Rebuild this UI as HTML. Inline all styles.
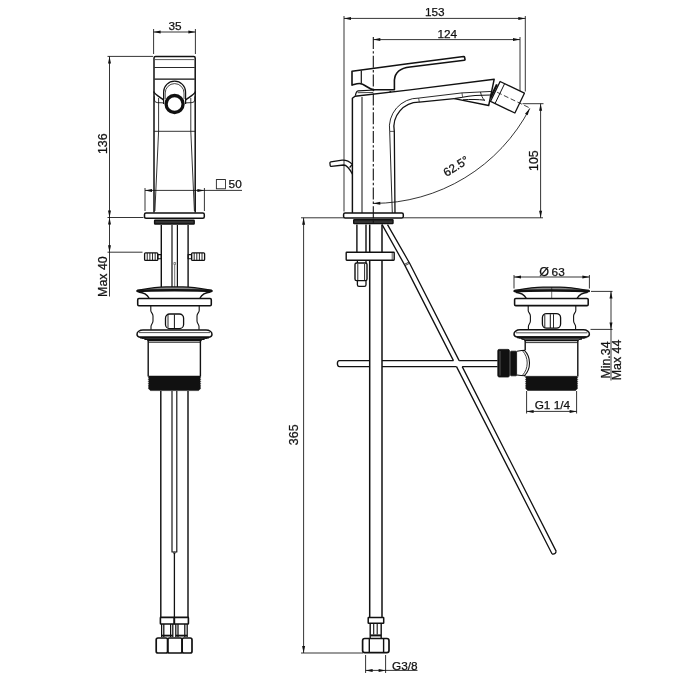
<!DOCTYPE html>
<html><head><meta charset="utf-8"><title>Technical drawing</title>
<style>
html,body{margin:0;padding:0;background:#fff;}
body{width:700px;height:700px;overflow:hidden;}
svg{display:block;will-change:transform;font-family:"Liberation Sans",Arial,Helvetica,sans-serif;}
</style></head><body>
<svg width="700" height="700" viewBox="0 0 700 700" stroke="#111" fill="none" stroke-linecap="butt" stroke-linejoin="round">
<rect x="0" y="0" width="700" height="700" fill="#fff" stroke="none"/>
<line x1="153.6" y1="29" x2="153.6" y2="54" stroke-width="0.85" />
<line x1="195.4" y1="29" x2="195.4" y2="54" stroke-width="0.85" />
<line x1="153.6" y1="32" x2="195.4" y2="32" stroke-width="0.85" />
<polygon points="153.60,32.00 160.60,30.50 160.60,33.50" fill="#111" stroke="none"/>
<polygon points="195.40,32.00 188.40,33.50 188.40,30.50" fill="#111" stroke="none"/>
<text x="175" y="29.7" font-size="11.8" text-anchor="middle" stroke="#111" stroke-width="0.25" fill="#111">35</text>
<line x1="107.5" y1="56.4" x2="153" y2="56.4" stroke-width="0.85" />
<line x1="109.5" y1="56.4" x2="109.5" y2="296.5" stroke-width="0.85" />
<polygon points="109.50,56.40 111.00,63.40 108.00,63.40" fill="#111" stroke="none"/>
<polygon points="109.50,217.50 108.00,210.50 111.00,210.50" fill="#111" stroke="none"/>
<line x1="107.5" y1="217.5" x2="143.5" y2="217.5" stroke-width="0.85" />
<text x="107.3" y="143.7" font-size="12.4" text-anchor="middle" transform="rotate(-90 107.3 143.7)" stroke="#111" stroke-width="0.25" fill="#111">136</text>
<polygon points="109.50,217.50 111.00,224.50 108.00,224.50" fill="#111" stroke="none"/>
<polygon points="109.50,252.20 108.00,245.20 111.00,245.20" fill="#111" stroke="none"/>
<line x1="107.5" y1="252.2" x2="142.5" y2="252.2" stroke-width="0.85" />
<text x="107.3" y="276.6" font-size="12.4" text-anchor="middle" transform="rotate(-90 107.3 276.6)" stroke="#111" stroke-width="0.25" fill="#111">Max 40</text>
<line x1="145" y1="188" x2="145" y2="211" stroke-width="0.85" />
<line x1="204.4" y1="188" x2="204.4" y2="211" stroke-width="0.85" />
<line x1="145" y1="190.4" x2="242" y2="190.4" stroke-width="0.85" />
<polygon points="145.00,190.40 152.00,188.90 152.00,191.90" fill="#111" stroke="none"/>
<polygon points="204.40,190.40 197.40,191.90 197.40,188.90" fill="#111" stroke="none"/>
<text x="216.0" y="189.2" font-size="16.2" text-anchor="start" stroke="#111" stroke-width="0.25" fill="#111">□</text>
<text x="228.6" y="188.2" font-size="11.8" text-anchor="start" stroke="#111" stroke-width="0.25" fill="#111">50</text>
<path d="M154,212.5 V58 Q154,56.5 155.5,56.5 H193.7 Q195.2,56.5 195.2,58 V212.5" stroke-width="1.5" fill="none" />
<line x1="155" y1="59.6" x2="194.2" y2="59.6" stroke-width="0.7" />
<line x1="154.5" y1="67.5" x2="194.7" y2="67.5" stroke-width="0.9" />
<line x1="154.5" y1="79.2" x2="194.7" y2="79.2" stroke-width="1.3" />
<path d="M153.8,91.5 C154,93.5 156,94.6 163.4,99.8" stroke-width="1.5" fill="none" />
<path d="M195.4,91.5 C195.2,93.5 193.2,94.6 185.8,99.8" stroke-width="1.5" fill="none" />
<path d="M154.4,96.4 V100 Q154.6,102.4 157.2,102.6 L164,102.9" stroke-width="0.85" fill="none" />
<path d="M194.8,96.4 V100 Q194.6,102.4 192,102.6 L185.2,102.9" stroke-width="0.85" fill="none" />
<path d="M158.6,98 V131.3 L154.9,211" stroke-width="0.85" fill="none" />
<path d="M190.8,98 V131.3 L194.4,211" stroke-width="0.85" fill="none" />
<line x1="154.2" y1="131.3" x2="195" y2="131.3" stroke-width="0.85" />
<path d="M163.6,104 V92.2 A11,11 0 0 1 185.6,92.2 V104" stroke-width="1.2" fill="none" />
<path d="M165.2,99 V93 A9.4,9.4 0 0 1 184,93 V99" stroke-width="0.8" fill="none" />
<circle cx="174.6" cy="104" r="8.5" stroke-width="3.3" fill="#fff"/>
<rect x="144.5" y="213" width="59.8" height="5.2" rx="1.5" stroke-width="1.5" fill="#fff"/>
<rect x="154.6" y="220.2" width="39.6" height="3.8" rx="0.5" stroke-width="1.4" fill="#333"/>
<line x1="161.3" y1="225" x2="161.3" y2="287" stroke-width="1.4" />
<line x1="188.1" y1="225" x2="188.1" y2="287" stroke-width="1.4" />
<line x1="172" y1="225" x2="172" y2="287" stroke-width="1.2" />
<line x1="177.4" y1="225" x2="177.4" y2="287" stroke-width="1.2" />
<line x1="174.7" y1="265" x2="174.7" y2="287" stroke-width="0.6" />
<rect x="173.9" y="262.5" width="1.6" height="2" rx="0" stroke-width="0.5" fill="none"/>
<rect x="144.6" y="252.8" width="13.200000000000017" height="7.6" rx="1" stroke-width="1.3" fill="none"/>
<line x1="147.24" y1="253" x2="147.24" y2="260.2" stroke-width="0.9" />
<line x1="149.88" y1="253" x2="149.88" y2="260.2" stroke-width="0.9" />
<line x1="152.52" y1="253" x2="152.52" y2="260.2" stroke-width="0.9" />
<line x1="155.16" y1="253" x2="155.16" y2="260.2" stroke-width="0.9" />
<rect x="157.8" y="254.6" width="3.5" height="4.2" rx="0" stroke-width="1.1" fill="none"/>
<rect x="191.6" y="252.8" width="13.0" height="7.6" rx="1" stroke-width="1.3" fill="none"/>
<line x1="194.2" y1="253" x2="194.2" y2="260.2" stroke-width="0.9" />
<line x1="196.79999999999998" y1="253" x2="196.79999999999998" y2="260.2" stroke-width="0.9" />
<line x1="199.4" y1="253" x2="199.4" y2="260.2" stroke-width="0.9" />
<line x1="202.0" y1="253" x2="202.0" y2="260.2" stroke-width="0.9" />
<rect x="188.1" y="254.6" width="3.5" height="4.2" rx="0" stroke-width="1.1" fill="none"/>
<path d="M137.2,290.4 C146,288.8 155,286.9 166,286.9 H183 C194,286.9 203,288.8 211.8,290.4" stroke-width="1.1" fill="#888" />
<path d="M137.4,290.9 C150,290 199,290 211.6,290.9" stroke-width="2.5" fill="none" stroke-linecap="round"/>
<path d="M138.4,292 C142.5,292.4 147,294 149,298" stroke-width="1.4" fill="none" />
<path d="M210.6,292 C206.5,292.4 202,294 200,298" stroke-width="1.4" fill="none" />
<rect x="137.7" y="298.5" width="73.6" height="7.3" rx="1.2" stroke-width="1.55" fill="none"/>
<path d="M150.8,305.6 V310.5 C150.8,312.5 153,313.5 153,316 V321 C153,323.5 151,324.5 151,326.5 V329.8" stroke-width="1.1" fill="none" />
<path d="M199.2,305.6 V310.5 C199.2,312.5 197,313.5 197,316 V321 C197,323.5 199,324.5 199,326.5 V329.8" stroke-width="1.1" fill="none" />
<rect x="165.5" y="314" width="18.1" height="14.6" rx="4.2" stroke-width="1.3" fill="none"/>
<line x1="168" y1="315" x2="168" y2="327.6" stroke-width="0.9" />
<line x1="174.4" y1="314.5" x2="174.4" y2="328.2" stroke-width="1.0" />
<path d="M143,330 H206 C209.5,330 212,332 212,334.2 C212,336 210.5,337 209,337.2 H140 C138.5,337 137,336 137,334.2 C137,332 139.5,330 143,330 Z" stroke-width="1.45" fill="none" />
<path d="M140,337.4 H209" stroke-width="2.0" fill="none" />
<path d="M144.5,339.1 H204.5" stroke-width="1.7" fill="none" />
<line x1="139" y1="332.6" x2="210" y2="332.6" stroke-width="0.7" />
<path d="M141.5,338.2 C145,338.6 147,339.3 148,340.6 M207.5,338.2 C204,338.6 202,339.3 201,340.6" stroke-width="1.0" fill="none" />
<line x1="147.6" y1="340.6" x2="201.4" y2="340.6" stroke-width="1.3" />
<line x1="148.6" y1="342.3" x2="200.4" y2="342.3" stroke-width="0.85" />
<line x1="148.2" y1="340.6" x2="148.2" y2="376.5" stroke-width="1.4" />
<line x1="200.4" y1="340.6" x2="200.4" y2="376.5" stroke-width="1.4" />
<polygon points="149.00,376.00 148.30,377.10 149.00,378.20 148.30,379.30 149.00,380.40 148.30,381.50 149.00,382.60 148.30,383.70 149.00,384.80 148.30,385.90 149.00,387.00 148.30,388.10 149.00,389.20 150.40,390.60 198.60,390.60 200.00,389.20 200.70,388.10 200.00,387.00 200.70,385.90 200.00,384.80 200.70,383.70 200.00,382.60 200.70,381.50 200.00,380.40 200.70,379.30 200.00,378.20 200.70,377.10 200.00,376.00" fill="#111" stroke="#111" stroke-width="0.5"/>
<line x1="160.8" y1="391" x2="160.8" y2="617.5" stroke-width="1.45" />
<line x1="188" y1="391" x2="188" y2="617.5" stroke-width="1.45" />
<path d="M172,391 V552 H176.8 V391" stroke-width="1.15" fill="none" />
<line x1="174.4" y1="553" x2="174.4" y2="617.5" stroke-width="1.3" />
<rect x="173.6" y="552" width="1.6" height="1.6" rx="0" stroke-width="0.5" fill="none"/>
<rect x="160.4" y="617.4" width="13.9" height="6.6" rx="0.5" stroke-width="1.6" fill="none"/>
<rect x="174.3" y="617.4" width="14.1" height="6.6" rx="0.5" stroke-width="1.6" fill="none"/>
<line x1="161.6" y1="624" x2="161.6" y2="637" stroke-width="1.25" />
<line x1="163.8" y1="624" x2="163.8" y2="637" stroke-width="1.25" />
<line x1="170.6" y1="624" x2="170.6" y2="637" stroke-width="1.25" />
<line x1="172.8" y1="624" x2="172.8" y2="637" stroke-width="1.25" />
<line x1="175.8" y1="624" x2="175.8" y2="637" stroke-width="1.25" />
<line x1="178" y1="624" x2="178" y2="637" stroke-width="1.25" />
<line x1="184.8" y1="624" x2="184.8" y2="637" stroke-width="1.25" />
<line x1="187.2" y1="624" x2="187.2" y2="637" stroke-width="1.25" />
<line x1="161.6" y1="635.6" x2="172.8" y2="635.6" stroke-width="1.8" />
<line x1="175.8" y1="635.6" x2="187.2" y2="635.6" stroke-width="1.8" />
<rect x="156.2" y="638" width="11.5" height="15" rx="1.8" stroke-width="1.7" fill="none"/>
<rect x="167.7" y="638" width="14.4" height="15" rx="1.8" stroke-width="1.7" fill="none"/>
<rect x="182.1" y="638" width="9.9" height="15" rx="1.8" stroke-width="1.7" fill="none"/>
<line x1="344" y1="16" x2="344" y2="211.5" stroke-width="0.85" />
<line x1="525.3" y1="16" x2="525.3" y2="91.5" stroke-width="0.85" />
<line x1="344" y1="18.4" x2="525.3" y2="18.4" stroke-width="0.85" />
<polygon points="344.00,18.40 351.00,16.90 351.00,19.90" fill="#111" stroke="none"/>
<polygon points="525.30,18.40 518.30,19.90 518.30,16.90" fill="#111" stroke="none"/>
<text x="434.8" y="16" font-size="11.8" text-anchor="middle" stroke="#111" stroke-width="0.25" fill="#111">153</text>
<line x1="520" y1="37" x2="520" y2="99.5" stroke-width="0.85" />
<line x1="373.3" y1="39.6" x2="520" y2="39.6" stroke-width="0.85" />
<polygon points="373.30,39.60 380.30,38.10 380.30,41.10" fill="#111" stroke="none"/>
<polygon points="520.00,39.60 513.00,41.10 513.00,38.10" fill="#111" stroke="none"/>
<text x="447.3" y="37.7" font-size="11.8" text-anchor="middle" stroke="#111" stroke-width="0.25" fill="#111">124</text>
<line x1="301" y1="217.8" x2="343.6" y2="217.8" stroke-width="0.85" />
<line x1="403.3" y1="217.8" x2="543" y2="217.8" stroke-width="0.85" />
<line x1="522.5" y1="103.7" x2="543.5" y2="103.7" stroke-width="0.85" />
<line x1="540.6" y1="103.7" x2="540.6" y2="217.8" stroke-width="0.85" />
<polygon points="540.60,103.70 542.10,110.70 539.10,110.70" fill="#111" stroke="none"/>
<polygon points="540.60,217.80 539.10,210.80 542.10,210.80" fill="#111" stroke="none"/>
<text x="538" y="160.6" font-size="12.4" text-anchor="middle" transform="rotate(-90 538 160.6)" stroke="#111" stroke-width="0.25" fill="#111">105</text>
<line x1="303.6" y1="217.8" x2="303.6" y2="653" stroke-width="0.85" />
<polygon points="303.60,217.80 305.10,224.80 302.10,224.80" fill="#111" stroke="none"/>
<polygon points="303.60,653.00 302.10,646.00 305.10,646.00" fill="#111" stroke="none"/>
<line x1="301" y1="653" x2="363" y2="653" stroke-width="0.85" />
<text x="298.3" y="434.8" font-size="12.4" text-anchor="middle" transform="rotate(-90 298.3 434.8)" stroke="#111" stroke-width="0.25" fill="#111">365</text>
<line x1="365.6" y1="655" x2="365.6" y2="673" stroke-width="0.85" />
<line x1="385.6" y1="655" x2="385.6" y2="673" stroke-width="0.85" />
<line x1="365.6" y1="670.4" x2="417.5" y2="670.4" stroke-width="0.85" />
<polygon points="365.60,670.40 372.60,668.90 372.60,671.90" fill="#111" stroke="none"/>
<polygon points="385.60,670.40 378.60,671.90 378.60,668.90" fill="#111" stroke="none"/>
<text x="392" y="669.6" font-size="11.8" text-anchor="start" stroke="#111" stroke-width="0.25" fill="#111">G3/8</text>
<path d="M529.77,108.45 A176.4,176.4 0 0 1 373.3,203.4" stroke-width="0.85" fill="none" />
<polygon points="529.77,108.45 527.63,115.28 525.02,113.81" fill="#111" stroke="none"/>
<polygon points="373.30,203.40 380.27,201.78 380.33,204.78" fill="#111" stroke="none"/>
<text x="446.4" y="177" font-size="11.8" text-anchor="start" transform="rotate(-32 446.4 177)" stroke="#111" stroke-width="0.25" fill="#111">62.5°</text>
<path d="M352,71.2 L404,64.3 L463.6,56.5 Q464.4,56.5 464.6,57.3 L465,59.4 Q465.1,60.1 464.3,60.2 L410,67 C401,68 395,72 394.4,80 V89.7 H374 C368,89.4 365,83.6 359.5,83.5 C356,83.5 354,84.7 352,85.1 Z" stroke-width="1.6" fill="#fff" />
<line x1="361.3" y1="70.6" x2="361.3" y2="83.6" stroke-width="1.2" />
<path d="M355.4,95.6 C355.8,92.8 356.8,91 358.2,90.8 L374.5,90 M389.6,91.2 L391.2,92" stroke-width="1.2" fill="none" />
<line x1="357.6" y1="92.7" x2="373.3" y2="92.5" stroke-width="0.8" />
<path d="M352.4,213 V98.3 L355,96.2 L410,89.9 L494.2,79.2 L488.7,105.5 L454.3,98.6" stroke-width="1.45" fill="none" />
<line x1="362" y1="97" x2="362" y2="213" stroke-width="1.0" />
<path d="M392.3,213 L389.7,131.4 A29,29 0 0 1 418.6,98.1 L462,92.9 L492,91.4" stroke-width="0.9" fill="none" />
<path d="M395,213 L394.3,131.4 A25,25 0 0 1 419.3,102.1 L454.3,98.6" stroke-width="1.3" fill="none" />
<line x1="389.7" y1="131.4" x2="394.3" y2="131.4" stroke-width="0.7" />
<line x1="418.6" y1="98.1" x2="419.3" y2="102.1" stroke-width="0.7" />
<line x1="462" y1="92.9" x2="462.5" y2="97" stroke-width="0.7" />
<path d="M454.3,98.6 L462.5,97.2 C472,95.3 482,95 491,95" stroke-width="1.1" fill="none" />
<path d="M463,99.8 C470,99.2 478,99.4 485,100.2" stroke-width="1.0" fill="none" />
<path d="M480.5,92 C481,95 482.5,98 484.5,100.5" stroke-width="0.9" fill="none" />
<path d="M500.11,81.48 L524.43,93.19 L514.89,113.02 L490.57,101.31 Z" stroke-width="1.3" fill="#fff" />
<line x1="504.61" y1="83.65" x2="495.07" y2="103.48" stroke-width="1.0" />
<line x1="496.93" y1="84.39" x2="490.64" y2="97.46" stroke-width="2.2" />
<line x1="497.14" y1="92.26" x2="530.48" y2="108.31" stroke-width="0.8" stroke-dasharray="5 2.5"/>
<path d="M352.3,164.4 C350,162 346,160 342.1,160.2 L330.8,161.8 Q329.8,162 329.9,163 L330.2,165.6 Q330.4,166.5 331.3,166.4 L343.6,165 C347,165 349.5,168.5 352.5,174.3 M352.3,164.4 L349.6,167.5" stroke-width="1.3" fill="none" />
<rect x="343.6" y="213.1" width="59.7" height="4.9" rx="1.5" stroke-width="1.5" fill="#fff"/>
<rect x="353.7" y="219.8" width="39.3" height="3.8" rx="0.5" stroke-width="1.4" fill="#333"/>
<line x1="356.9" y1="224.5" x2="356.9" y2="252" stroke-width="1.4" />
<line x1="366" y1="224.5" x2="366" y2="252" stroke-width="1.4" />
<line x1="369.7" y1="224.5" x2="369.7" y2="617.4" stroke-width="1.5" />
<line x1="382.0" y1="224.5" x2="382.0" y2="617.4" stroke-width="1.5" />
<rect x="346.2" y="252.2" width="48" height="8" rx="0.6" stroke-width="1.4" fill="#fff"/>
<line x1="392.2" y1="252.5" x2="392.2" y2="260" stroke-width="0.7" />
<line x1="357.4" y1="260.4" x2="357.4" y2="263" stroke-width="1.3" />
<line x1="366" y1="260.4" x2="366" y2="263" stroke-width="1.3" />
<rect x="355" y="263" width="12" height="17.6" rx="1.6" stroke-width="1.4" fill="none"/>
<line x1="357.8" y1="264" x2="357.8" y2="280" stroke-width="0.9" />
<line x1="364.6" y1="264" x2="364.6" y2="280" stroke-width="0.9" />
<path d="M357.4,280.8 V284.8 Q357.4,286.4 359,286.4 H364.4 Q366,286.4 366,284.8 V280.8" stroke-width="1.3" fill="none" />
<path d="M382.1,224.6 L405.0,265.6 L453.46,360.6 M456.52,366.6 L552.1,554.0" stroke-width="1.3" fill="none" />
<path d="M387.5,224.6 L409.6,263.2 L459.14,360.6 M462.20,366.6 L556.2,551.4" stroke-width="1.3" fill="none" />
<path d="M552.1,554.0 Q555.30,554.6 556.2,551.4" stroke-width="1.3" fill="none" />
<line x1="405.0" y1="265.6" x2="409.6" y2="263.2" stroke-width="0.8" />
<line x1="404.4" y1="264.40000000000003" x2="409.0" y2="262.0" stroke-width="0.8" />
<path d="M369.7,360.6 H339.4 Q337.4,360.6 337.4,363.6 Q337.4,366.6 339.4,366.6 H369.7" stroke-width="1.35" fill="none" />
<path d="M382.0,360.6 H453.46 M382.0,366.6 H456.52" stroke-width="1.35" fill="none" />
<path d="M459.14,360.6 H497.6 M462.20,366.6 H497.6" stroke-width="1.35" fill="none" />
<rect x="368.2" y="617.4" width="15.5" height="5.9" rx="0.5" stroke-width="1.5" fill="none"/>
<line x1="370.2" y1="623.2" x2="370.2" y2="638" stroke-width="1.4" />
<line x1="381.2" y1="623.2" x2="381.2" y2="638" stroke-width="1.4" />
<line x1="373.7" y1="623.2" x2="373.7" y2="634.5" stroke-width="1.1" />
<line x1="377.2" y1="623.2" x2="377.2" y2="634.5" stroke-width="1.1" />
<line x1="370.4" y1="635.4" x2="381" y2="635.4" stroke-width="2.0" />
<rect x="362.6" y="638.5" width="26.4" height="14.2" rx="2.2" stroke-width="1.7" fill="none"/>
<line x1="369.3" y1="638.6" x2="369.3" y2="652.6" stroke-width="1.4" />
<line x1="383.6" y1="638.6" x2="383.6" y2="652.6" stroke-width="1.4" />
<line x1="514" y1="275" x2="514" y2="288.5" stroke-width="0.85" />
<line x1="589.4" y1="275" x2="589.4" y2="288.5" stroke-width="0.85" />
<line x1="514" y1="277" x2="589.4" y2="277" stroke-width="0.85" />
<polygon points="514.00,277.00 521.00,275.50 521.00,278.50" fill="#111" stroke="none"/>
<polygon points="589.40,277.00 582.40,278.50 582.40,275.50" fill="#111" stroke="none"/>
<text x="539.3" y="275.9" font-size="12.6" text-anchor="start" stroke="#111" stroke-width="0.25" fill="#111">Ø</text>
<text x="551.6" y="275.7" font-size="11.8" text-anchor="start" stroke="#111" stroke-width="0.25" fill="#111">63</text>
<path d="M514.4,290.6 C523,289 532,287.1 543,287.1 H560 C571,287.1 580,289 589,290.6" stroke-width="1.1" fill="#888" />
<path d="M514.6,291.1 C527,290.2 576,290.2 588.8,291.1" stroke-width="2.5" fill="none" stroke-linecap="round"/>
<path d="M515.6,292.2 C519.7,292.6 524.2,294.2 526.2,298.2" stroke-width="1.4" fill="none" />
<path d="M587.8,292.2 C583.7,292.6 579.2,294.2 577.2,298.2" stroke-width="1.4" fill="none" />
<line x1="551.7" y1="287" x2="551.7" y2="298" stroke-width="0.6" />
<rect x="514.6" y="298.4" width="73.6" height="7.2" rx="1.2" stroke-width="1.55" fill="none"/>
<path d="M528.2,305.4 V310.5 C528.2,312.5 530.4,313.5 530.4,316 V321 C530.4,323.5 528.4,324.5 528.4,326.5 V329.6" stroke-width="1.1" fill="none" />
<path d="M575.8,305.4 V310.5 C575.8,312.5 573.6,313.5 573.6,316 V321 C573.6,323.5 575.6,324.5 575.6,326.5 V329.6" stroke-width="1.1" fill="none" />
<rect x="542.4" y="313.6" width="18.2" height="14.6" rx="4.2" stroke-width="1.3" fill="none"/>
<line x1="544.8" y1="315" x2="544.8" y2="327" stroke-width="0.9" />
<line x1="550.3" y1="314.2" x2="550.3" y2="328" stroke-width="1.0" />
<line x1="553.5" y1="314.2" x2="553.5" y2="328" stroke-width="0.9" />
<path d="M520,329.8 H583.4 C586.9,329.8 589.4,331.8 589.4,334 C589.4,335.8 587.9,336.8 586.4,337 H517 C515.5,336.8 514,335.8 514,334 C514,331.8 516.5,329.8 520,329.8 Z" stroke-width="1.45" fill="none" />
<path d="M517,337.3 H586.4" stroke-width="2.0" fill="none" />
<path d="M521.5,339 H581.9" stroke-width="1.7" fill="none" />
<line x1="516" y1="332.8" x2="587.4" y2="332.8" stroke-width="0.7" />
<path d="M518.5,338 C522,338.4 524,339.1 525,340.4 M584.9,338 C581.4,338.4 579.4,339.1 578.4,340.4" stroke-width="1.0" fill="none" />
<line x1="524.4" y1="340.6" x2="578.6" y2="340.6" stroke-width="1.3" />
<line x1="525.4" y1="342.6" x2="577.6" y2="342.6" stroke-width="0.85" />
<line x1="525.2" y1="340.6" x2="525.2" y2="350.2" stroke-width="1.4" />
<line x1="525.2" y1="375.6" x2="525.2" y2="376.6" stroke-width="1.4" />
<line x1="577.8" y1="340.6" x2="577.8" y2="376.6" stroke-width="1.4" />
<polygon points="526.20,376.30 525.50,377.37 526.20,378.43 525.50,379.50 526.20,380.57 525.50,381.63 526.20,382.70 525.50,383.77 526.20,384.83 525.50,385.90 526.20,386.97 525.50,388.03 526.20,389.10 527.60,390.50 575.60,390.50 577.00,389.10 577.70,388.03 577.00,386.97 577.70,385.90 577.00,384.83 577.70,383.77 577.00,382.70 577.70,381.63 577.00,380.57 577.70,379.50 577.00,378.43 577.70,377.37 577.00,376.30" fill="#111" stroke="#111" stroke-width="0.5"/>
<rect x="497.8" y="349.4" width="11.6" height="27.6" rx="1.4" stroke-width="0.8" fill="#111"/>
<line x1="500" y1="351" x2="500" y2="375.6" stroke-width="0.5" stroke="#999"/>
<rect x="510.6" y="351.2" width="6" height="24.6" rx="0.6" stroke-width="0.8" fill="#111"/>
<path d="M517,351.3 C519.5,350.8 522,350.3 525.2,350.2 M517,375 C519.5,375.5 522,375.8 525.2,375.8 M524.4,350.3 C531.2,357 531.2,369 524.4,375.7" stroke-width="1.1" fill="none" />
<path d="M522.4,350.6 C528.8,357.5 528.8,368.5 522.4,375.4" stroke-width="0.8" fill="none" />
<line x1="526.6" y1="391" x2="526.6" y2="413.5" stroke-width="0.85" />
<line x1="576.6" y1="391" x2="576.6" y2="413.5" stroke-width="0.85" />
<line x1="526.6" y1="411.4" x2="576.6" y2="411.4" stroke-width="0.85" />
<polygon points="526.60,411.40 533.60,409.90 533.60,412.90" fill="#111" stroke="none"/>
<polygon points="576.60,411.40 569.60,412.90 569.60,409.90" fill="#111" stroke="none"/>
<text x="552.4" y="408.5" font-size="11.8" text-anchor="middle" stroke="#111" stroke-width="0.25" fill="#111">G1 1/4</text>
<line x1="591" y1="291.4" x2="612.5" y2="291.4" stroke-width="0.85" />
<line x1="590.5" y1="329.4" x2="612.5" y2="329.4" stroke-width="0.85" />
<line x1="611" y1="291.4" x2="611" y2="380.5" stroke-width="0.85" />
<polygon points="611.00,291.40 612.50,298.40 609.50,298.40" fill="#111" stroke="none"/>
<polygon points="611.00,329.40 609.50,322.40 612.50,322.40" fill="#111" stroke="none"/>
<text x="610.2" y="360" font-size="12.4" text-anchor="middle" transform="rotate(-90 610.2 360)" stroke="#111" stroke-width="0.25" fill="#111">Min.34</text>
<text x="621" y="360" font-size="12.4" text-anchor="middle" transform="rotate(-90 621 360)" stroke="#111" stroke-width="0.25" fill="#111">Max 44</text>
<line x1="373.3" y1="37" x2="373.3" y2="224" stroke-width="1.1" stroke-dasharray="12 2.2 2.4 2.2"/>
</svg>
</body></html>
